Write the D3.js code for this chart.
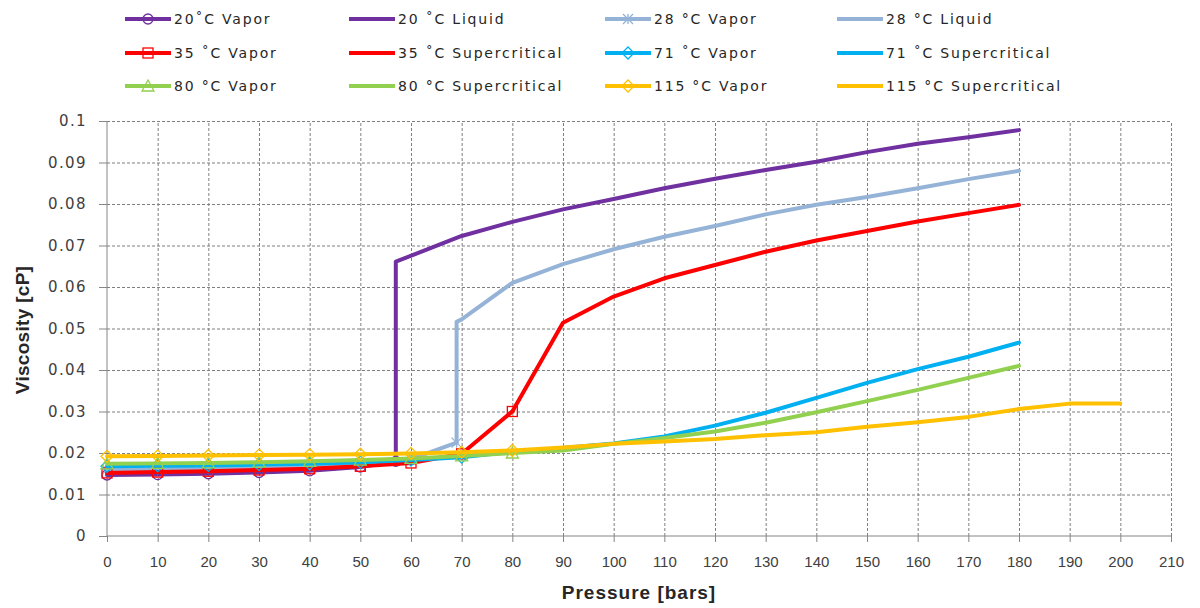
<!DOCTYPE html>
<html>
<head>
<meta charset="utf-8" />
<title>CO2 viscosity vs pressure</title>
<script src="https://d3js.org/d3.v7.min.js"></script>
<style>
  body { margin: 0; background: #fff; }
  .tick text { fill: #404040; }
  .grid line { stroke: #7f7f7f; stroke-dasharray: 3,2; stroke-width: 1; }
  .grid path { stroke: none; }
</style>
</head>
<body>
<div id="chart"></div>
<script>
// ---- data (pressure in bars, viscosity in cP) ----
const xTicks = [0,10,20,30,40,50,60,70,80,90,100,110,120,130,140,150,160,170,180,190,200,210];
const yTicks = [0,0.01,0.02,0.03,0.04,0.05,0.06,0.07,0.08,0.09,0.1];
const yTickLabels = ["0","0.01","0.02","0.03","0.04","0.05","0.06","0.07","0.08","0.09","0.1"];

const vapor20 = [[0,0.0147],[10,0.0148],[20,0.0150],[30,0.0153],[40,0.0157],[50,0.0166],[57,0.0180]];
const liquid20 = [[57,0.0180],[57,0.0661],[70,0.0723],[80,0.0757],[90,0.0787],[100,0.0812],[110,0.0838],
                  [120,0.0861],[130,0.0882],[140,0.0902],[150,0.0925],[160,0.0945],[170,0.0961],[180,0.0978]];
const vapor28 = [[0,0.0160],[10,0.0161],[20,0.0163],[30,0.0166],[40,0.0169],[50,0.0175],[60,0.0185],[69,0.0225]];
const liquid28 = [[69,0.0225],[69,0.0516],[70,0.0522],[80,0.0610],[90,0.0655],[100,0.0691],[110,0.0721],
                  [120,0.0747],[130,0.0775],[140,0.0798],[150,0.0817],[160,0.0838],[170,0.0860],[180,0.0880]];
const vapor35 = [[0,0.0152],[10,0.0154],[20,0.0156],[30,0.0159],[40,0.0162],[50,0.0168],[60,0.0176],[70,0.0198],[80,0.0300]];
const super35 = [[80,0.0300],[90,0.0514],[100,0.0577],[110,0.0621],[120,0.0653],[130,0.0685],[140,0.0712],
                 [150,0.0735],[160,0.0758],[170,0.0778],[180,0.0798]];
const vapor71 = [[0,0.0168],[10,0.0169],[20,0.0170],[30,0.0172],[40,0.0174],[50,0.0178],[60,0.0183],[70,0.0190]];
const super71 = [[70,0.0190],[80,0.0203],[90,0.0212],[100,0.0223],[110,0.0240],[120,0.0266],[130,0.0297],
                 [140,0.0333],[150,0.0369],[160,0.0402],[170,0.0432],[180,0.0466]];
const vapor80 = [[0,0.0174],[10,0.0175],[20,0.0176],[30,0.0178],[40,0.0180],[50,0.0183],[60,0.0187],[70,0.0193],[80,0.0200]];
const super80 = [[80,0.0200],[90,0.0206],[100,0.0222],[110,0.0236],[120,0.0252],[130,0.0273],[140,0.0298],
                 [150,0.0325],[160,0.0352],[170,0.0381],[180,0.0410]];
const vapor115 = [[0,0.0192],[10,0.0193],[20,0.0194],[30,0.0195],[40,0.0196],[50,0.0197],[60,0.0199],[70,0.0202],[80,0.0206]];
const super115 = [[80,0.0206],[90,0.0213],[100,0.0222],[110,0.0228],[120,0.0234],[130,0.0243],[140,0.0250],
                  [150,0.0263],[160,0.0274],[170,0.0287],[180,0.0306],[190,0.0319],[200,0.0319]];

const seriesNames = ["20\u02DAC Vapor","20 \u02DAC Liquid","28 \u00B0C Vapor","28 \u00B0C Liquid",
  "35 \u02DAC Vapor","35 \u02DAC Supercritical","71 \u02DAC Vapor","71 \u02DAC Supercritical",
  "80 \u00B0C Vapor","80 \u00B0C Supercritical","115 \u00B0C Vapor","115 \u00B0C Supercritical"];

// ---- styles ----
const series = [
  {data: vapor20,  color: "#7030A0", marker: "circle"},
  {data: liquid20, color: "#7030A0", marker: null},
  {data: vapor28,  color: "#95B3D7", marker: "star"},
  {data: liquid28, color: "#95B3D7", marker: null},
  {data: vapor35,  color: "#FF0000", marker: "square"},
  {data: super35,  color: "#FF0000", marker: null},
  {data: vapor71,  color: "#00B0F0", marker: "diamond"},
  {data: super71,  color: "#00B0F0", marker: null},
  {data: vapor80,  color: "#92D050", marker: "triangle"},
  {data: super80,  color: "#92D050", marker: null},
  {data: vapor115, color: "#FFC000", marker: "diamond"},
  {data: super115, color: "#FFC000", marker: null}
];
series.forEach((s, i) => s.name = seriesNames[i]);

const width = 1200, height = 608;
const plotLeft = 107, plotRight = 1171, plotTop = 121, plotBottom = 536;

const svg = d3.select("#chart").append("svg")
  .attr("width", width).attr("height", height);

const x = d3.scaleLinear().domain([0, 210]).range([plotLeft, plotRight]);
const y = d3.scaleLinear().domain([0, 0.1]).range([plotBottom, plotTop]);

// gridlines
svg.append("g").attr("class", "grid")
  .attr("transform", `translate(${plotLeft},0)`)
  .call(d3.axisLeft(y).tickValues(yTicks.slice(1)).tickSize(-(plotRight - plotLeft)).tickFormat(""));
svg.append("g").attr("class", "grid")
  .attr("transform", `translate(0,${plotBottom})`)
  .call(d3.axisBottom(x).tickValues(xTicks.slice(1)).tickSize(-(plotBottom - plotTop)).tickFormat(""));

// axes
const yAxis = svg.append("g")
  .attr("transform", `translate(${plotLeft},0)`)
  .call(d3.axisLeft(y).tickValues(yTicks).tickSize(8).tickPadding(12)
    .tickFormat((d, i) => yTickLabels[i]));
yAxis.selectAll("text")
  .attr("font-family", "'DejaVu Sans', Verdana, sans-serif")
  .attr("font-size", 15).attr("letter-spacing", "1.4px");

const xAxis = svg.append("g")
  .attr("transform", `translate(0,${plotBottom})`)
  .call(d3.axisBottom(x).tickValues(xTicks).tickSize(6).tickPadding(14));
xAxis.selectAll("text")
  .attr("font-family", "'Liberation Sans Narrow', 'Arial Narrow', sans-serif")
  .attr("font-size", 15);
svg.selectAll(".domain").attr("stroke", "#868686");
svg.selectAll(".tick line").filter(function() { return !this.closest(".grid"); })
  .attr("stroke", "#868686");
xAxis.select(".domain").attr("d", `M${plotLeft},0H${plotRight}`);
yAxis.select(".domain").attr("d", `M0,${plotBottom}V${plotTop}`);

// axis titles
svg.append("text")
  .attr("x", (plotLeft + plotRight) / 2).attr("y", 599)
  .attr("text-anchor", "middle")
  .attr("font-family", "'Liberation Sans Narrow', 'Arial Narrow', sans-serif")
  .attr("font-weight", "bold").attr("font-size", 19).attr("letter-spacing", "1px").attr("fill", "#262626")
  .text("Pressure [bars]");
svg.append("text")
  .attr("transform", "translate(29,330) rotate(-90)")
  .attr("text-anchor", "middle")
  .attr("font-family", "'Liberation Sans Narrow', 'Arial Narrow', sans-serif")
  .attr("font-weight", "bold").attr("font-size", 19).attr("letter-spacing", "0.3px").attr("fill", "#262626")
  .text("Viscosity [cP]");

// markers
function drawMarker(g, type, color, cx, cy, r) {
  if (type === "circle") {
    g.append("circle").attr("cx", cx).attr("cy", cy).attr("r", r)
      .attr("fill", "none").attr("stroke", color).attr("stroke-width", 1.3);
  } else if (type === "square") {
    g.append("rect").attr("x", cx - r).attr("y", cy - r).attr("width", 2 * r).attr("height", 2 * r)
      .attr("fill", "none").attr("stroke", color).attr("stroke-width", 1.3);
  } else if (type === "diamond") {
    g.append("path").attr("d", `M${cx},${cy - r - 1}L${cx + r + 1},${cy}L${cx},${cy + r + 1}L${cx - r - 1},${cy}Z`)
      .attr("fill", "none").attr("stroke", color).attr("stroke-width", 1.3);
  } else if (type === "triangle") {
    g.append("path").attr("d", `M${cx},${cy - r - 1}L${cx + r + 1},${cy + r}L${cx - r - 1},${cy + r}Z`)
      .attr("fill", "none").attr("stroke", color).attr("stroke-width", 1.3);
  } else if (type === "star") {
    g.append("path").attr("d",
      `M${cx - r},${cy - r}L${cx + r},${cy + r}M${cx - r},${cy + r}L${cx + r},${cy - r}M${cx},${cy - r}V${cy + r}`)
      .attr("fill", "none").attr("stroke", color).attr("stroke-width", 1.3);
  }
}

const line = d3.line().x(d => x(d[0])).y(d => y(d[1]));
const plot = svg.append("g");
series.forEach(s => {
  const g = plot.append("g");
  g.append("path").datum(s.data).attr("d", line)
    .attr("fill", "none").attr("stroke", s.color).attr("stroke-width", 4)
    .attr("stroke-linejoin", "round").attr("stroke-linecap", "round");
  if (s.marker) s.data.forEach(d => drawMarker(g, s.marker, s.color, x(d[0]), y(d[1]), 5));
});

// legend: 3 rows x 4 columns
const legendX = [125, 349, 605, 837];
const legendY = [19, 53, 86];
series.forEach((s, i) => {
  const lx = legendX[i % 4], ly = legendY[Math.floor(i / 4)];
  const g = svg.append("g");
  g.append("line").attr("x1", lx).attr("x2", lx + 46).attr("y1", ly).attr("y2", ly)
    .attr("stroke", s.color).attr("stroke-width", 4);
  if (s.marker) drawMarker(g, s.marker, s.color, lx + 23, ly, 5);
  g.append("text").attr("x", lx + 49).attr("y", ly + 5)
    .attr("font-family", "'DejaVu Sans', Verdana, sans-serif")
    .attr("font-size", 14).attr("letter-spacing", "1.8px").attr("fill", "#262626")
    .text(s.name);
});
</script>
</body>
</html>
